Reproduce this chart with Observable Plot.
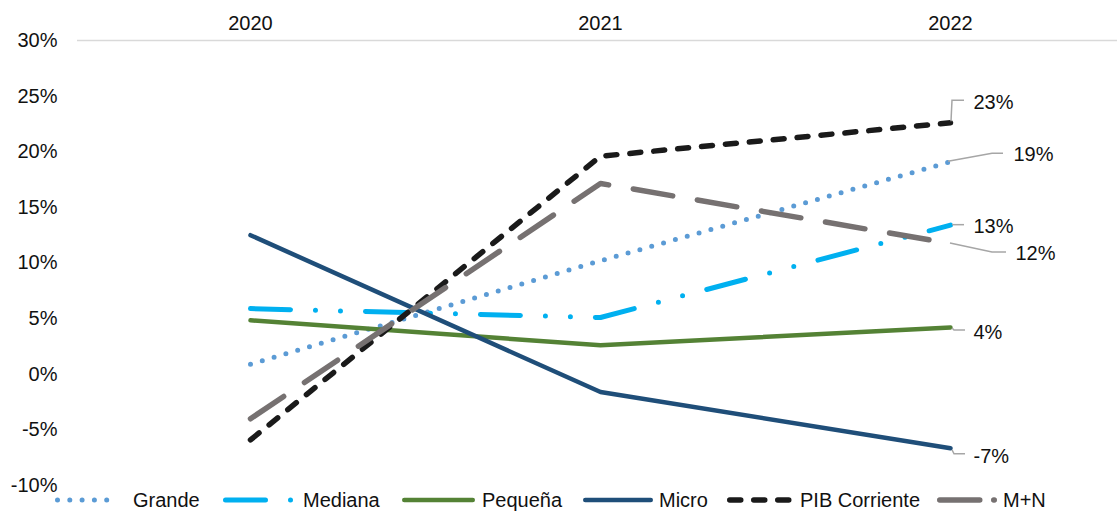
<!DOCTYPE html>
<html>
<head>
<meta charset="utf-8">
<script src="https://cdn.jsdelivr.net/npm/d3@7"></script>
<script src="https://cdn.jsdelivr.net/npm/@observablehq/plot@0.6"></script>
<style>
  html, body { margin: 0; padding: 0; background: #fff; }
  #chart { width: 1117px; height: 512px; position: relative; font-family: "Liberation Sans", Arial, sans-serif; }
</style>
</head>
<body>
<div id="chart"></div>
<script>
// ---- data ----
const years = [2020, 2021, 2022];
const seriesNames = ["Grande", "Mediana", "Pequeña", "Micro", "PIB Corriente", "M+N"];
const grande = [0.9, 10.2, 19.1];
const mediana = [5.9, 5.1, 13.4];
const pequena = [4.85, 2.6, 4.2];
const micro = [12.5, -1.6, -6.65];
const pib = [-5.9, 19.6, 22.6];
const mn = [-4.0, 17.15, 11.75];
const seriesValues = [grande, mediana, pequena, micro, pib, mn];
const endLabels = ["19%", "13%", "4%", "-7%", "23%", "12%"];
const yTicks = [-10, -5, 0, 5, 10, 15, 20, 25, 30];

// ---- styles ----
const styles = {
  "Grande":        {color: "#5B9BD5", width: 5,   dash: "0 12.3"},
  "Mediana":       {color: "#00B0F0", width: 5,   dash: "40 25 0 25 0 25"},
  "Pequeña":       {color: "#548235", width: 4.5, dash: null},
  "Micro":         {color: "#1F4E79", width: 4.5, dash: null},
  "PIB Corriente": {color: "#1A1A1A", width: 5.5, dash: "11 13"},
  "M+N":           {color: "#767171", width: 5.5, dash: "40 25"}
};
// leader polylines & label offsets, in pixels relative to the 2022 end point
const leaders = {
  "Grande":        {pts: [[-2, 0], [42, -8], [53, -8]], dx: 63, dy: -7},
  "Mediana":       {pts: [[2, 0], [14, 0]], dx: 23, dy: 1},
  "Pequeña":       {pts: [[2, 1], [4, 3], [15, 3]], dx: 23, dy: 5},
  "Micro":         {pts: [[2, 2], [4, 6], [15, 6]], dx: 23, dy: 8},
  "PIB Corriente": {pts: [[1, -1], [2, -22], [14, -22]], dx: 23, dy: -20},
  "M+N":           {pts: [[0, 0], [42, 9], [56, 9]], dx: 65, dy: 10}
};
const legendPos = {
  "Grande":        {sample: 55,  sampleLen: 66, text: 133},
  "Mediana":       {sample: 223, sampleLen: 71, text: 303},
  "Pequeña":       {sample: 402, sampleLen: 73, text: 482},
  "Micro":         {sample: 583, sampleLen: 70, text: 659},
  "PIB Corriente": {sample: 727, sampleLen: 65, text: 800},
  "M+N":           {sample: 937, sampleLen: 60, text: 1003, dash: "40 14"}
};

const rows = seriesNames.flatMap((s, i) => years.map((yr, j) => ({series: s, year: yr, value: seriesValues[i][j]})));
const ends = seriesNames.map((s, i) => ({series: s, year: years[years.length - 1], value: seriesValues[i][years.length - 1], label: endLabels[i]}));

const textColor = "#111";

const lineMarks = seriesNames.map(s => Plot.line(rows.filter(r => r.series === s), {
  x: "year", y: "value",
  stroke: styles[s].color,
  strokeWidth: styles[s].width,
  strokeDasharray: styles[s].dash || undefined,
  strokeLinecap: "round",
  strokeLinejoin: "round"
}));

const leaderMark = (index, scales) => {
  const g = d3.create("svg:g").attr("fill", "none").attr("stroke", "#A6A6A6").attr("stroke-width", 1.5);
  ends.forEach(e => {
    const px = scales.x(e.year), py = scales.y(e.value);
    const pts = leaders[e.series].pts.map(([a, b]) => [px + a, py + b]);
    g.append("path").attr("d", d3.line()(pts));
  });
  return g.node();
};

const labelMarks = ends.map(e => Plot.text([e], {
  x: "year", y: "value", text: "label",
  dx: leaders[e.series].dx, dy: leaders[e.series].dy,
  textAnchor: "start", fill: textColor, fontSize: 20
}));

const plot = Plot.plot({
  width: 1117,
  height: 490,
  marginTop: 40,
  marginBottom: 5,
  marginLeft: 77,
  marginRight: 0,
  style: {fontFamily: "'Liberation Sans', Arial, sans-serif", fontSize: "20px", color: textColor, overflow: "visible", background: "#fff"},
  x: {type: "linear", domain: [2020, 2022], range: [250, 950]},
  y: {domain: [-10, 30]},
  marks: [
    Plot.ruleY([30], {stroke: "#D9D9D9", strokeWidth: 1.5}),
    Plot.axisX({anchor: "top", ticks: years, tickFormat: d => String(d), tickSize: 0, tickPadding: 11, fill: textColor, fontSize: 20, label: null}),
    Plot.axisY({anchor: "left", ticks: yTicks, tickFormat: d => d + "%", tickSize: 0, tickPadding: 20, fill: textColor, fontSize: 20, label: null}),
    ...lineMarks,
    leaderMark,
    ...labelMarks
  ]
});

const chart = document.getElementById("chart");
chart.appendChild(plot);

// ---- legend ----
const legend = d3.create("svg").attr("width", 1117).attr("height", 22)
  .style("display", "block").style("overflow", "visible")
  .style("font-family", "'Liberation Sans', Arial, sans-serif");
seriesNames.forEach(s => {
  const st = styles[s], lp = legendPos[s];
  const cy = 10;
  legend.append("path")
    .attr("d", `M${lp.sample + st.width / 2},${cy}H${lp.sample + lp.sampleLen - st.width / 2}`)
    .attr("fill", "none")
    .attr("stroke", st.color)
    .attr("stroke-width", st.width)
    .attr("stroke-linecap", "round")
    .attr("stroke-dasharray", lp.dash || st.dash);
  legend.append("text")
    .attr("x", lp.text).attr("y", cy).attr("dy", "0.35em")
    .attr("font-size", 20).attr("fill", textColor)
    .text(s);
});
chart.appendChild(legend.node());
</script>
</body>
</html>
